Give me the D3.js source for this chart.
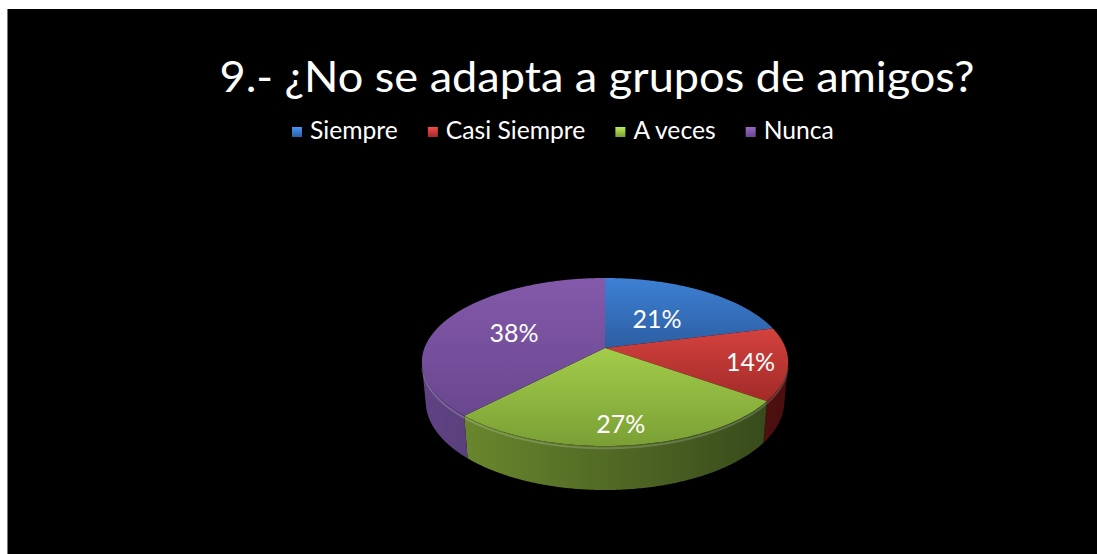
<!DOCTYPE html>
<html>
<head>
<meta charset="utf-8">
<script src="https://cdn.jsdelivr.net/npm/d3@7"></script>
<style>
  html, body { margin: 0; padding: 0; background: #fff; }
  svg { display: block; }
</style>
</head>
<body>
<svg id="chart"></svg>
<script>
// data
const title = "9.- ¿No se adapta a grupos de amigos?";
const categories = ["Siempre", "Casi Siempre", "A veces", "Nunca"];
const values = [21, 14, 27, 38];
const labels = values.map(v => v + "%");

// colours (light, dark) for top faces and sides
const topColors = [["#3e80d4", "#2c5ea3"], ["#d4423f", "#a22a28"], ["#a3cd4b", "#7b9f35"], ["#8459ab", "#69478f"]];
const sideColors = [["#2f5d96", "#1d3c66"], ["#8c2422", "#4a0e0e"], ["#708f30", "#34461a"], ["#5e4282", "#46305f"]];
// how far out each label sits (excel "best fit")
const labelR = [0.5, 0.8, 0.8, 0.56];

const width = 1097, height = 554;
const font = "Lato, 'Open Sans', sans-serif";

const svg = d3.select("#chart").attr("width", width).attr("height", height);

// black chart area inside white page border
svg.append("rect").attr("x", 7).attr("y", 9).attr("width", width - 7).attr("height", height - 9).attr("fill", "#000");
svg.append("line").attr("x1", 7.5).attr("x2", 7.5).attr("y1", 9).attr("y2", height).attr("stroke", "#777");

const defs = svg.append("defs");

// perspective camera for the tilted pie
const cam = { cx: 605, cy: 348, F: 966, d: 5.35, el: 26.9 * Math.PI / 180, thick: 0.246 };
const ce = Math.cos(cam.el), se = Math.sin(cam.el);

function proj(theta, r, h) {
    const X = r * Math.sin(theta), D = r * Math.cos(theta);
    const depth = cam.d + D * ce + h * se;
    const u = D * se - h * ce;
    return [cam.cx + cam.F * X / depth, cam.cy - cam.F * u / depth];
}

// angles where the side of the cylinder turns away from the viewer
const silA = Math.acos(-1 / (cam.d * ce));
const silB = 2 * Math.PI - silA;

const pie = d3.pie().sort(null).value(d => d);
const arcs = pie(values);
const line = d3.line();

function rim(a0, a1, r, h) {
    const n = Math.max(2, Math.ceil((a1 - a0) / 0.01));
    return d3.range(n + 1).map(i => proj(a0 + (a1 - a0) * i / n, r, h));
}

// gradients
arcs.forEach((a, i) => {
    const gt = defs.append("linearGradient").attr("id", "top" + i)
        .attr("x1", 0).attr("y1", 0).attr("x2", 0).attr("y2", 1);
    gt.append("stop").attr("offset", "0%").attr("stop-color", topColors[i][0]);
    gt.append("stop").attr("offset", "100%").attr("stop-color", topColors[i][1]);

    const gs = defs.append("linearGradient").attr("id", "side" + i)
        .attr("gradientUnits", "userSpaceOnUse")
        .attr("x1", proj(silB, 1, 0)[0]).attr("y1", 0)
        .attr("x2", proj(silA, 1, 0)[0]).attr("y2", 0);
    gs.append("stop").attr("offset", "0%").attr("stop-color", sideColors[i][0]);
    gs.append("stop").attr("offset", "100%").attr("stop-color", sideColors[i][1]);
});

const pieG = svg.append("g");

// visible outer walls
arcs.forEach((a, i) => {
    const t0 = Math.max(a.startAngle, silA), t1 = Math.min(a.endAngle, silB);
    if (t1 <= t0) return;
    const pts = rim(t0, t1, 1, 0).concat(rim(t0, t1, 1, cam.thick).reverse());
    pieG.append("path").attr("d", line(pts) + "Z").attr("fill", `url(#side${i})`);
    // soft highlight on the top edge of the wall
    pieG.append("path").attr("d", line(rim(t0, t1, 1, 0.012)))
        .attr("fill", "none").attr("stroke", "#fff").attr("stroke-opacity", 0.18).attr("stroke-width", 2);
});

// top faces
arcs.forEach((a, i) => {
    const pts = [proj(0, 0, 0)].concat(rim(a.startAngle, a.endAngle, 1, 0));
    pieG.append("path").attr("d", line(pts) + "Z").attr("fill", `url(#top${i})`);
});

// data labels
arcs.forEach((a, i) => {
    const p = proj((a.startAngle + a.endAngle) / 2, labelR[i], 0);
    pieG.append("text").attr("x", p[0]).attr("y", p[1])
        .attr("text-anchor", "middle").attr("dominant-baseline", "central")
        .attr("fill", "#fff").style("font-family", font).style("font-size", "25px")
        .text(labels[i]);
});

// title
svg.append("text").attr("x", 597).attr("y", 92)
    .attr("text-anchor", "middle").attr("fill", "#fff")
    .style("font-family", font).style("font-size", "43px")
    .attr("textLength", 755).attr("lengthAdjust", "spacingAndGlyphs")
    .text(title);

// legend
const legend = svg.append("g");
const items = legend.selectAll("g").data(categories).enter().append("g");
items.append("text").attr("y", 139).attr("fill", "#fff")
    .style("font-family", font).style("font-size", "20px")
    .text(d => d);
categories.forEach((c, i) => {
    const g = defs.append("linearGradient").attr("id", "leg" + i)
        .attr("x1", 0).attr("y1", 0).attr("x2", 0).attr("y2", 1);
    g.append("stop").attr("offset", "0%").attr("stop-color", d3.color(topColors[i][0]).brighter(0.4));
    g.append("stop").attr("offset", "100%").attr("stop-color", topColors[i][1]);
});
const boxW = 10, markerGap = 8, itemGap = 30;
items.append("rect").attr("y", 127).attr("width", boxW).attr("height", boxW)
    .attr("fill", (d, i) => `url(#leg${i})`);

// grow the legend font so the labels take the same room as in the picture
let widths = [];
items.select("text").each(function () { widths.push(this.getComputedTextLength()); });
const fs = 20 * 380 / d3.sum(widths);
items.select("text").style("font-size", fs + "px");
widths = [];
items.select("text").each(function () { widths.push(this.getComputedTextLength()); });

let x = 292;
items.each(function (d, i) {
    const g = d3.select(this);
    g.select("rect").attr("x", x);
    g.select("text").attr("x", x + boxW + markerGap);
    x += boxW + markerGap + widths[i] + itemGap;
});
</script>
</body>
</html>
